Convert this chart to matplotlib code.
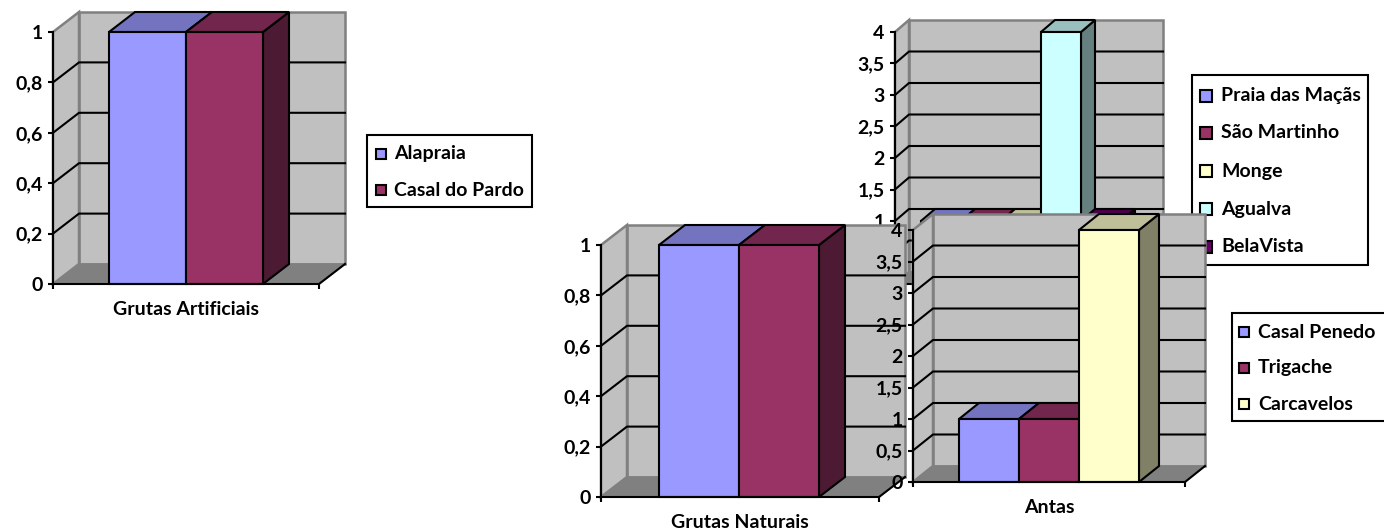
import matplotlib
matplotlib.use("Agg")
import matplotlib.pyplot as plt
from matplotlib.colors import to_rgb
from matplotlib.patches import Polygon, Rectangle
from matplotlib.transforms import Affine2D

W, H = 1384, 531
plt.rcParams['font.family'] = ['Lato', 'DejaVu Sans']
plt.rcParams['font.weight'] = 'bold'
plt.rcParams['font.size'] = 14

# data
names_art = ['Alapraia', 'Casal do Pardo']
values_art = [1, 1]
names_nat = ['Alapraia', 'Casal do Pardo']
values_nat = [1, 1]
names_top = ['Praia das Maçãs', 'São Martinho', 'Monge', 'Agualva', 'BelaVista']
values_top = [1, 1, 1, 4, 1]
names_antas = ['Casal Penedo', 'Trigache', 'Carcavelos']
values_antas = [1, 1, 4]

ticks_1 = [0, 0.2, 0.4, 0.6, 0.8, 1]
ticks_4 = [0, 0.5, 1, 1.5, 2, 2.5, 3, 3.5, 4]

COLORS = ['#9999FF', '#993366', '#FFFFCC', '#CCFFFF', '#660066']
LW = 1.5

fig = plt.figure(figsize=(W / 100, H / 100), dpi=100)
# pixel coords, top left origin, for the legends
px = Affine2D().scale(1, -1).translate(0, H)


def shade(color, k):
    return tuple(c * k for c in to_rgb(color))


def legend_box(ax, box, key_x, text_x, ys, key, labels):
    l, t, r, b = box
    ax.add_patch(Rectangle((l, t), r - l, b - t, transform=px, fc='white', ec='black',
                           lw=LW, clip_on=False, zorder=5))
    for i, y in enumerate(ys):
        ax.add_patch(Rectangle((key_x, y - key / 2), key, key, transform=px, fc=COLORS[i],
                               ec='black', lw=LW, clip_on=False, zorder=6))
        ax.text(text_x, y, labels[i], transform=px, va='center', ha='left', zorder=6)


def chart(box, dx, dy, ticks, values, category, bar_left, bar_w, z):
    left, top, right, bottom = box
    ymax = ticks[-1]
    ax = fig.add_axes([left / W, 1 - bottom / H, (right - left) / W, (bottom - top) / H])
    ax.set_zorder(z)
    ax.patch.set_visible(False)
    ax.set_xlim(left, right)
    ax.set_ylim(0, ymax)
    ddx = dx
    ddy = dy * ymax / (bottom - top)

    def poly(pts, **kw):
        ax.add_patch(Polygon(pts, closed=True, clip_on=False, **kw))

    # walls and floor
    bl, br = left + ddx, right + ddx
    poly([(bl, ddy), (br, ddy), (br, ymax + ddy), (bl, ymax + ddy)], fc='#C0C0C0', ec='#808080', lw=1.8, zorder=1)
    poly([(left, 0), (bl, ddy), (bl, ymax + ddy), (left, ymax)], fc='#C0C0C0', ec='#808080', lw=1.8, zorder=1)
    poly([(left, 0), (right, 0), (br, ddy), (bl, ddy)], fc='#808080', ec='#808080', lw=1, zorder=1.1)
    ax.plot([right, br], [0, ddy], color='black', lw=LW, clip_on=False, zorder=1.2)
    for v in ticks[1:-1]:
        ax.plot([left, bl, br], [v, v + ddy, v + ddy], color='black', lw=LW, clip_on=False, zorder=1.3)

    # bars
    for i, v in enumerate(values):
        x0 = bar_left + i * bar_w
        x1 = x0 + bar_w
        c = COLORS[i]
        poly([(x1, 0), (x1 + ddx, ddy), (x1 + ddx, v + ddy), (x1, v)], fc=shade(c, 0.5), ec='black', lw=LW, zorder=3)
        poly([(x0, v), (x1, v), (x1 + ddx, v + ddy), (x0 + ddx, v + ddy)], fc=shade(c, 0.75), ec='black', lw=LW, zorder=3)
        ax.bar(x0, v, bar_w, align='edge', color=c, edgecolor='black', linewidth=LW, clip_on=False, zorder=3.1)

    for s in ['top', 'right']:
        ax.spines[s].set_visible(False)
    for s in ['left', 'bottom']:
        ax.spines[s].set_linewidth(LW)
        ax.spines[s].set_zorder(3.5)
    ax.set_yticks(ticks)
    ax.set_yticklabels([f'{v:g}'.replace('.', ',') for v in ticks])
    ax.tick_params(axis='y', length=3.5, width=LW, pad=4)
    ax.set_xticks([left, right])
    ax.set_xticklabels(['', ''])
    ax.tick_params(axis='x', length=3.5, width=LW)
    ax.set_xticks([(left + right) / 2], minor=True)
    ax.set_xticklabels([category], minor=True)
    ax.tick_params(axis='x', which='minor', length=0, pad=12)
    return ax


ax1 = chart((53, 32, 319, 284), 26, 20, ticks_1, values_art, 'Grutas Artificiais', 109, 77, 1)
legend_box(ax1, (367, 135, 532, 207), 376, 394, [154, 190], 10, names_art)

ax3 = chart((895, 32, 1149, 284), 14, 12, ticks_4, values_top, '', 921, 40, 2)
legend_box(ax3, (1192, 75, 1368, 265), 1200, 1221, [96, 133, 171, 209, 247], 12, names_top)

ax2 = chart((601, 245, 879, 497), 26, 20, ticks_1, values_nat, 'Grutas Naturais', 659, 80, 3)

ax4 = chart((913, 230, 1185, 482), 20, 16, ticks_4, values_antas, 'Antas', 959, 60, 4)
legend_box(ax4, (1232, 313, 1392, 421), 1239, 1258, [332, 368, 404], 10, names_antas)

fig.savefig('out.png', dpi=100)
